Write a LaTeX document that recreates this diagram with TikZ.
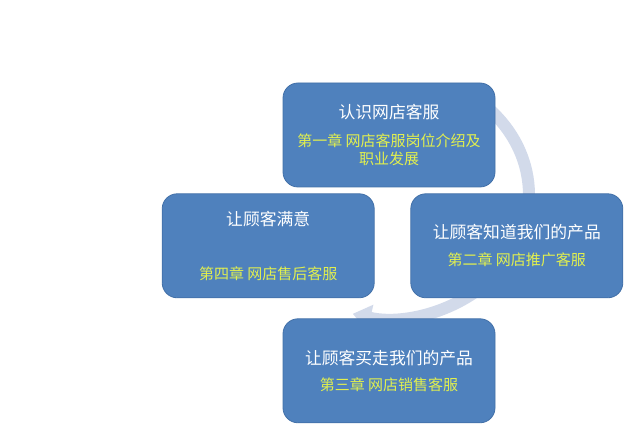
\documentclass[tikz,border=0pt]{standalone}
\usepackage{fontspec}
\newfontfamily\cjkfont{Noto Sans CJK SC}
\usetikzlibrary{arrows.meta, positioning}
\definecolor{boxblue}{RGB}{79,129,189}
\definecolor{boxedge}{RGB}{66,112,168}
\definecolor{ringgray}{RGB}{210,218,234}
\definecolor{chapyellow}{RGB}{226,240,78}

\begin{document}
\begin{tikzpicture}[
        x=1pt, y=1pt,
        every node/.style={font=\cjkfont\fontsize{15}{18}\selectfont},
        stage/.style={draw=boxedge, line width=0.8pt, fill=boxblue, rounded corners=15pt,
            minimum width=212pt, minimum height=104pt, inner sep=0pt, align=center, text=white}
    ]
        \useasboundingbox (0,0) rectangle (640,436);
        \draw[ringgray, line width=12pt, -{Triangle[width=26pt, length=18pt]}]
            (389,241) ++(45:140 and 123) arc[start angle=45, end angle=-105, x radius=140, y radius=123];

        \node[stage] (know) at (389,301) {{\fontsize{16.8}{18}\selectfont 认识网店客服}\\[10pt]\textcolor{chapyellow}{第一章 网店客服岗位介绍及}\\\textcolor{chapyellow}{职业发展}};
        \node[stage, below right=6pt and -85pt of know] (promote) {{\fontsize{16.8}{18}\selectfont 让顾客知道我们的产品}\\[9pt]\textcolor{chapyellow}{第二章 网店推广客服}};
        \node[stage, below left=6pt and -92pt of know] (satisfy) {{\fontsize{16.8}{18}\selectfont 让顾客满意}\\[36pt]\textcolor{chapyellow}{第四章 网店售后客服}};
        \node[stage, below=131pt of know] (sell) {{\fontsize{16.8}{18}\selectfont 让顾客买走我们的产品}\\[8pt]\textcolor{chapyellow}{第三章 网店销售客服}};
    \end{tikzpicture}
\end{document}
